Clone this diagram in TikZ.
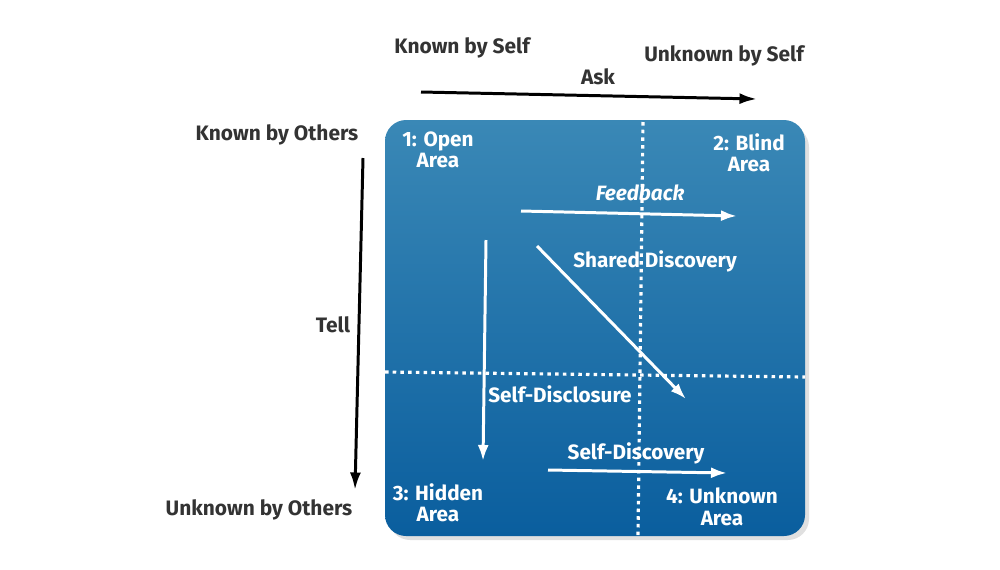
\documentclass[tikz,border=0pt]{standalone}
\usepackage{fontspec}
\setmainfont{Fira Sans}
\usetikzlibrary{arrows.meta}
\definecolor{boxtop}{HTML}{3A88B6}
\definecolor{boxbottom}{HTML}{0A5E9E}
\definecolor{labeltext}{HTML}{333333}

\tikzset{
  outerlabel/.style={text=labeltext, font=\fontsize{11.9}{12}\selectfont\bfseries, inner sep=0pt},
  arealabel/.style={text=white, font=\fontsize{11.8}{12.2}\selectfont\bfseries, align=center, inner sep=0pt},
  flowlabel/.style={text=white, font=\fontsize{11.8}{12}\selectfont\bfseries, inner sep=0pt},
  blackarrow/.style={-{Latex[length=3.5mm,width=2.2mm]}, line width=1.7pt, black},
  whitearrow/.style={-{Latex[length=3.2mm,width=2.2mm]}, line width=1.7pt, white},
  divider/.style={white, line width=1.8pt, dash pattern=on 2pt off 2.4pt}
}

\begin{document}
\begin{tikzpicture}[x=0.02cm, y=-0.02cm]
        \useasboundingbox (0,0) rectangle (1000,569);

        % Window
        \fill[black!12, rounded corners=12] (389,126) rectangle (809,540);
        \shade[top color=boxtop, bottom color=boxbottom, rounded corners=12] (385,120) rectangle (805,536);
        \coordinate (vtop) at (643,122);
        \coordinate (vbot) at (638,536);
        \coordinate (hleft) at (385,372);
        \coordinate (hright) at (805,377);
        \draw[divider] (vtop) -- (vbot);
        \draw[divider] (hleft) -- (hright);

        % Nodes
        \node[outerlabel] (knownself) at (462,48) {Known by Self};
        \node[outerlabel] (unknownself) at (724,56) {Unknown by Self};
        \node[outerlabel] (ask) at (598,77) {Ask};
        \node[outerlabel] (knownothers) at (277,135) {Known by Others};
        \node[outerlabel] (tell) at (333,325) {Tell};
        \node[outerlabel] (unknownothers) at (259,510) {Unknown by Others};

        \node[arealabel] (open) at (438,150) {1: Open\\Area};
        \node[arealabel] (blind) at (749,153) {2: Blind\\Area};
        \node[arealabel] (hidden) at (438,503) {3: Hidden\\Area};
        \node[arealabel] (unknown) at (722,507) {4: Unknown\\Area};

        \node[flowlabel, font=\fontsize{11.8}{12}\selectfont\bfseries\itshape] (feedback) at (640,193) {Feedback};
        \node[flowlabel] (shared) at (655,261) {Shared Discovery};
        \node[flowlabel] (disclosure) at (560,394) {Self-Disclosure};
        \node[flowlabel] (discovery) at (636,453) {Self-Discovery};

        % Arrow ends
        \coordinate (askstart) at (421,92);
        \coordinate (askend) at (757,99);
        \coordinate (tellstart) at (363,158);
        \coordinate (tellend) at (355,490);
        \coordinate (fbstart) at (521,211);
        \coordinate (fbend) at (737,216);
        \coordinate (sharedstart) at (537,246);
        \coordinate (sharedend) at (686,399);
        \coordinate (sdstart) at (486,240);
        \coordinate (sdend) at (483,461);
        \coordinate (discstart) at (548,470);
        \coordinate (discend) at (727,473);

        % Arrows
        \draw[blackarrow] (askstart) -- (askend);
        \draw[blackarrow] (tellstart) -- (tellend);
        \draw[whitearrow] (fbstart) -- (fbend);
        \draw[whitearrow] (sharedstart) -- (sharedend);
        \draw[whitearrow] (sdstart) -- (sdend);
        \draw[whitearrow] (discstart) -- (discend);
\end{tikzpicture}
\end{document}
